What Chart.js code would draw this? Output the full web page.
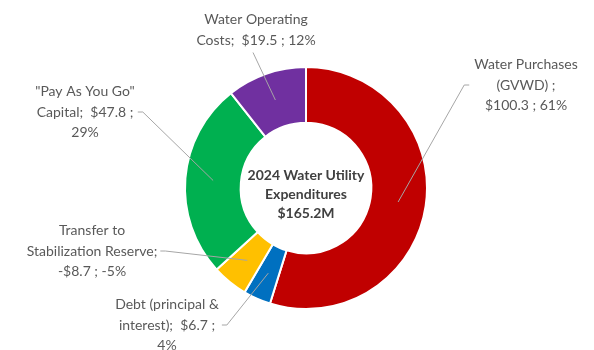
<!DOCTYPE html>
<html>
<head>
<meta charset="utf-8">
<script src="https://cdn.jsdelivr.net/npm/chart.js@4/dist/chart.umd.min.js"></script>
<style>
  html, body { margin: 0; padding: 0; background: #fff; }
  #wrap { width: 594px; height: 350px; position: relative; }
</style>
</head>
<body>
<div id="wrap"><canvas id="expChart"></canvas></div>
<script>
// data ($ millions)
const categories = ['Water Purchases (GVWD) ', 'Debt (principal & interest)', 'Transfer to Stabilization Reserve', '"Pay As You Go" Capital', 'Water Operating Costs'];
const amounts = [100.3, 6.7, -8.7, 47.8, 19.5];
const percents = [61, 4, -5, 29, 12];
const centerLines = ['2024 Water Utility', 'Expenditures', '$165.2M'];

const colors = ['#C00000', '#0070C0', '#FFC000', '#00B050', '#7030A0'];

// label layout: words per line, centre of text block, where the leader attaches
const lineWords = [[2, 2, 3], [3, 3, 1], [2, 2, 3], [4, 3, 1], [2, 4]];
const labelPos = [[526, 85], [167, 325], [92, 251], [85, 112], [256, 30]];
const attachSide = ['left', 'right', 'right', 'right', 'bottom'];

function money(v) {
  return (v < 0 ? '-$' : '$') + Math.abs(v).toFixed(1);
}

function labelLines(i) {
  const txt = categories[i] + '; ' + money(amounts[i]) + ' ; ' + percents[i] + '%';
  const words = txt.split(/ +/);
  const out = [];
  let k = 0;
  lineWords[i].forEach(n => {
    let s = '';
    for (let j = 0; j < n && k < words.length; j++, k++) {
      const w = words[k];
      if (s === '') s = w;
      else s += ((s.endsWith(';') && s.length > 1 && !s.endsWith(' ;')) ? '  ' : ' ') + w;
    }
    out.push(s);
  });
  return out;
}

const labelPlugin = {
  id: 'outLabels',
  afterDatasetsDraw(chart) {
    const ctx = chart.ctx;
    const meta = chart.getDatasetMeta(0);
    const lh = 20.5;
    ctx.save();
    ctx.font = '14px Lato';
    ctx.textAlign = 'center';
    ctx.textBaseline = 'middle';
    meta.data.forEach((arc, i) => {
      const lines = labelLines(i);
      const [cx, cy] = labelPos[i];
      const w = Math.max(...lines.map(l => ctx.measureText(l).width));
      const h = lines.length * lh;
      const a = arc.tooltipPosition();

      // leader line
      ctx.strokeStyle = '#A6A6A6';
      ctx.lineWidth = 1;
      ctx.beginPath();
      if (attachSide[i] === 'left') {
        const x0 = cx - w / 2 - 5;
        ctx.moveTo(x0, cy);
        ctx.lineTo(x0 - 5, cy);
        ctx.lineTo(a.x, a.y);
      } else if (attachSide[i] === 'right') {
        const x0 = cx + w / 2 + 3;
        ctx.moveTo(x0, cy);
        ctx.lineTo(x0 + 5, cy);
        ctx.lineTo(a.x, a.y);
      } else {
        ctx.moveTo(cx - 3, cy + h / 2 + 2);
        ctx.lineTo(a.x, a.y);
      }
      ctx.stroke();

      ctx.fillStyle = '#595959';
      lines.forEach((l, j) => {
        ctx.fillText(l, cx, cy - h / 2 + lh / 2 + j * lh);
      });
    });

    // centre title
    const c = meta.data[0];
    ctx.font = 'bold 14px Lato';
    ctx.fillStyle = '#404040';
    centerLines.forEach((l, j) => {
      ctx.fillText(l, c.x, c.y - 13 + j * 19);
    });
    ctx.restore();
  }
};

new Chart(document.getElementById('expChart'), {
  type: 'doughnut',
  data: {
    labels: categories,
    datasets: [{
      data: amounts.map(v => Math.abs(v)),
      backgroundColor: colors,
      borderColor: '#ffffff',
      borderWidth: 2
    }]
  },
  options: {
    responsive: true,
    maintainAspectRatio: false,
    animation: false,
    cutout: '54%',
    layout: { padding: { top: 66, bottom: 40, left: 184, right: 166 } },
    plugins: {
      legend: { display: false },
      tooltip: { enabled: false }
    }
  },
  plugins: [labelPlugin]
});
</script>
</body>
</html>
